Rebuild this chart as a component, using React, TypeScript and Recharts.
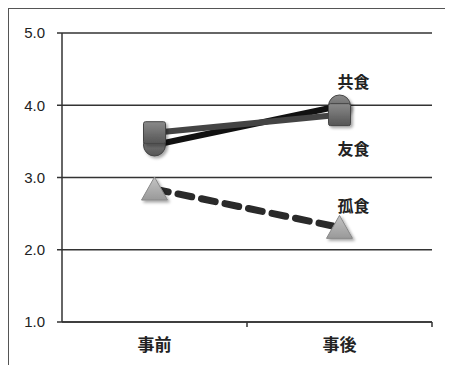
import { LineChart, Line, XAxis, YAxis, CartesianGrid } from 'recharts'

const categories = ['事前', '事後']
const kyoshoku = [3.45, 3.99] // 共食
const yushoku = [3.62, 3.87] // 友食
const koshoku = [2.84, 2.31] // 孤食
const yTicks = [1, 2, 3, 4, 5]

const data = categories.map((c, i) => ({
  name: c,
  kyo: kyoshoku[i],
  yu: yushoku[i],
  ko: koshoku[i],
}))

const CHART_W = 444
const CHART_H = 356
const MARGIN = { top: 24, right: 21, left: 8, bottom: 13 }
const Y_W = 45
const PLOT_W = CHART_W - MARGIN.left - MARGIN.right - Y_W
const HALF_BAND = PLOT_W / categories.length / 2

const CJK = '"Noto Sans CJK JP", "Noto Sans", sans-serif'

const SquareDot = (props: any) => {
  const { cx, cy } = props
  if (cx == null || cy == null) return null
  return (
    <rect x={cx - 11} y={cy - 11} width={22} height={22} rx={2} fill="url(#gSq)" stroke="#444" strokeWidth={1} filter="url(#shadow)" />
  )
}

const CircleDot = (props: any) => {
  const { cx, cy } = props
  if (cx == null || cy == null) return null
  return <circle cx={cx} cy={cy} r={11} fill="url(#gSq)" stroke="#444" strokeWidth={1} filter="url(#shadow)" />
}

const TriDot = (props: any) => {
  const { cx, cy } = props
  if (cx == null || cy == null) return null
  return (
    <path
      d={`M${cx},${cy - 12} L${cx + 13},${cy + 11} L${cx - 13},${cy + 11} Z`}
      fill="url(#gTri)"
      stroke="#888"
      strokeWidth={1}
      filter="url(#shadow)"
    />
  )
}

const seriesLabel = (text: string, dy: number) => (props: any) => {
  const { x, y, index } = props
  if (index !== categories.length - 1) return null
  return (
    <text x={x + 14} y={y + dy} textAnchor="middle" dominantBaseline="central" fontFamily={CJK} fontWeight={700} fontSize={16} fill="#222">
      {text}
    </text>
  )
}

const CatTick = (props: any) => {
  const { x, y, payload } = props
  return (
    <g>
      <line x1={x + HALF_BAND} y1={y - 8} x2={x + HALF_BAND} y2={y - 3} stroke="#333" strokeWidth={1.5} />
      <text x={x} y={y + 21} textAnchor="middle" fontFamily={CJK} fontWeight={700} fontSize={17} fill="#222">
        {payload.value}
      </text>
    </g>
  )
}

export default function App() {
  return (
    <div
      style={{
        width: CHART_W,
        height: CHART_H + 1,
        borderTop: '1.5px solid #555',
        borderLeft: '1.5px solid #555',
        background: '#fff',
      }}
    >
      <LineChart width={CHART_W} height={CHART_H} data={data} margin={MARGIN}>
        <defs>
          <linearGradient id="gSq" x1="0" y1="0" x2="0" y2="1">
            <stop offset="0%" stopColor="#8a8a8a" />
            <stop offset="100%" stopColor="#555" />
          </linearGradient>
          <linearGradient id="gTri" x1="0" y1="0" x2="0" y2="1">
            <stop offset="0%" stopColor="#c4c4c4" />
            <stop offset="100%" stopColor="#999" />
          </linearGradient>
          <filter id="shadow" x="-50%" y="-50%" width="200%" height="200%">
            <feDropShadow dx={2} dy={2} stdDeviation={1.5} floodColor="#000" floodOpacity={0.35} />
          </filter>
        </defs>
        <CartesianGrid vertical={false} stroke="#333" strokeWidth={1.5} />
        <XAxis
          dataKey="name"
          stroke="#333"
          strokeWidth={1.5}
          tickLine={false}
          tick={<CatTick />}
          padding={{ left: HALF_BAND, right: HALF_BAND }}
          height={30}
        />
        <YAxis
          width={Y_W}
          domain={[1, 5]}
          ticks={yTicks}
          interval={0}
          stroke="#333"
          strokeWidth={1.5}
          tickSize={5}
          tickMargin={12}
          tickFormatter={(v) => v.toFixed(1)}
          tick={{ fill: '#222', fontSize: 15, fontFamily: 'Arial, "Liberation Sans", sans-serif' }}
        />
        <Line
          dataKey="ko"
          stroke="#2a2a2a"
          strokeWidth={7}
          strokeDasharray="14 10"
          strokeLinecap="round"
          dot={<TriDot />}
          label={seriesLabel('孤食', -22)}
          isAnimationActive={false}
        />
        <Line
          dataKey="kyo"
          stroke="#111"
          strokeWidth={6}
          dot={<CircleDot />}
          label={seriesLabel('共食', -25)}
          isAnimationActive={false}
        />
        <Line
          dataKey="yu"
          stroke="#444"
          strokeWidth={6}
          dot={<SquareDot />}
          label={seriesLabel('友食', 33)}
          isAnimationActive={false}
        />
      </LineChart>
    </div>
  )
}
